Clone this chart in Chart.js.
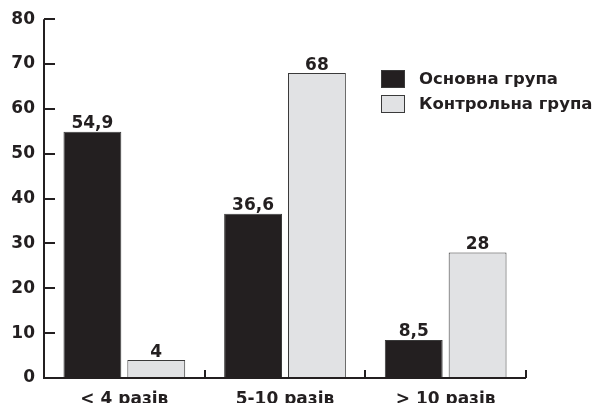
<!DOCTYPE html>
<html>
<head>
<meta charset="utf-8">
<script src="https://cdn.jsdelivr.net/npm/chart.js@4/dist/chart.umd.min.js"></script>
<style>
  html, body { margin: 0; padding: 0; background: #fff; }
  #wrap { width: 596px; height: 403px; position: relative; }
</style>
</head>
<body>
<div id="wrap"><canvas id="c" width="596" height="403"></canvas></div>
<script>
// Частота (разів) — категорії
const categories = ['< 4 разів', '5-10 разів', '> 10 разів'];
// Відсоток пацієнтів у кожній групі
const mainGroup = [54.9, 36.6, 8.5];
const controlGroup = [4, 68, 28];
const seriesNames = ['Основна група', 'Контрольна група'];
// Поділки осі Y
const yTicks = [0, 10, 20, 30, 40, 50, 60, 70, 80];

const INK = '#231f20';
const FONT = "'DejaVu Sans', sans-serif";

const decorations = {
  id: 'decorations',
  afterDraw(chart) {
    const ctx = chart.ctx;
    const x = chart.scales.x, y = chart.scales.y;
    const area = chart.chartArea;
    ctx.save();
    ctx.strokeStyle = INK;
    ctx.lineWidth = 2;
    // axis lines
    ctx.beginPath();
    ctx.moveTo(area.left, y.getPixelForValue(yTicks[yTicks.length - 1]));
    ctx.lineTo(area.left, area.bottom);
    ctx.lineTo(area.right, area.bottom);
    ctx.stroke();
    // y tick marks pointing inward
    yTicks.forEach(v => {
      const py = Math.round(y.getPixelForValue(v));
      ctx.beginPath();
      ctx.moveTo(area.left, py);
      ctx.lineTo(area.left + 11, py);
      ctx.stroke();
    });
    // x tick marks at category boundaries
    for (let i = 0; i < categories.length; i++) {
      const px = Math.round(x.getPixelForValue(i + 0.5));
      ctx.beginPath();
      ctx.moveTo(px, area.bottom);
      ctx.lineTo(px, area.bottom - 8);
      ctx.stroke();
    }
    // value labels above bars
    ctx.fillStyle = INK;
    ctx.font = "bold 17px " + FONT;
    ctx.textAlign = 'center';
    ctx.textBaseline = 'alphabetic';
    chart.data.datasets.forEach((ds, di) => {
      const meta = chart.getDatasetMeta(di);
      meta.data.forEach((bar, i) => {
        const txt = String(ds.data[i]).replace('.', ',');
        ctx.fillText(txt, bar.x, bar.y - 3.5);
      });
    });
    // legend
    const lx = 381, ly = [70, 95];
    ctx.font = "bold 16.5px " + FONT;
    ctx.textAlign = 'left';
    ctx.textBaseline = 'middle';
    chart.data.datasets.forEach((ds, di) => {
      ctx.fillStyle = ds.backgroundColor;
      ctx.fillRect(lx, ly[di], 24, 18);
      ctx.lineWidth = 1;
      ctx.strokeStyle = '#3a3a3a';
      ctx.strokeRect(lx + 0.5, ly[di] + 0.5, 23, 17);
      ctx.fillStyle = INK;
      ctx.fillText(ds.label, lx + 38, ly[di] + 10);
    });
    ctx.restore();
  }
};

new Chart(document.getElementById('c'), {
  type: 'bar',
  data: {
    labels: categories,
    datasets: [
      { label: seriesNames[0], data: mainGroup, backgroundColor: INK, borderColor: '#3a3a3a', borderWidth: 1 },
      { label: seriesNames[1], data: controlGroup, backgroundColor: '#e1e2e4', borderColor: '#3a3a3a', borderWidth: 1 }
    ]
  },
  options: {
    responsive: false,
    animation: false,
    devicePixelRatio: 1,
    layout: { padding: { left: 0, right: 70, top: 19, bottom: 0 } },
    plugins: { legend: { display: false }, tooltip: { enabled: false } },
    datasets: { bar: { categoryPercentage: 0.795, barPercentage: 0.906 } },
    scales: {
      x: {
        offset: true,
        grid: { display: false, drawTicks: false },
        border: { display: false },
        ticks: { color: INK, font: { family: FONT, weight: 'bold', size: 17 }, padding: 11, maxRotation: 0 },
        afterFit(s) { s.height = 25; }
      },
      y: {
        min: 0, max: 80,
        afterBuildTicks(s) { s.ticks = yTicks.map(v => ({ value: v })); },
        grid: { display: false, drawTicks: false },
        border: { display: false },
        ticks: { color: INK, font: { family: FONT, weight: 'bold', size: 17 }, padding: 9 },
        afterFit(s) { s.width = 44; }
      }
    }
  },
  plugins: [decorations]
});
</script>
</body>
</html>
